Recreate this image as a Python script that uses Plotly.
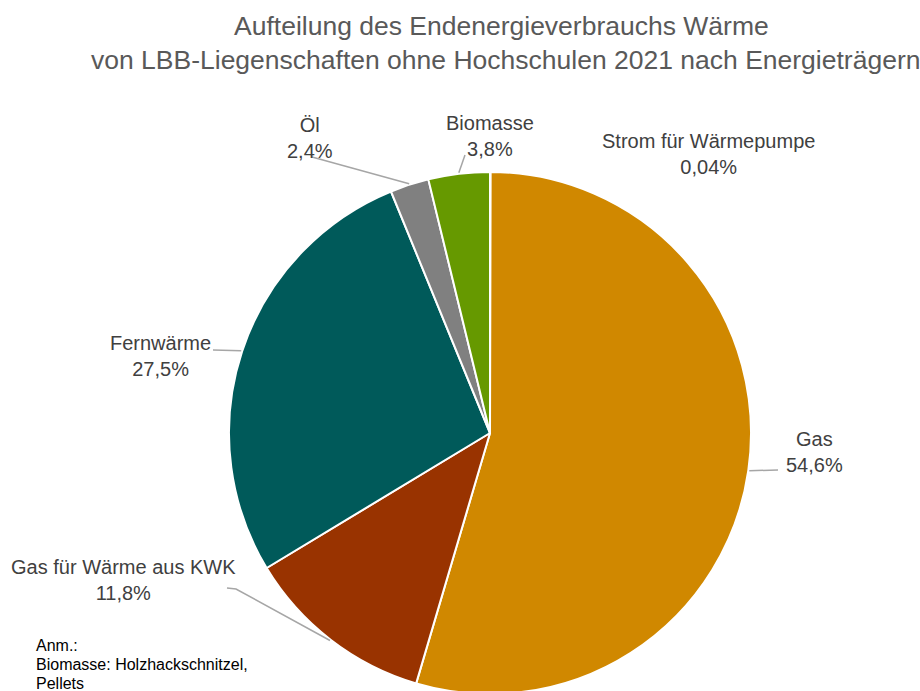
import math
import plotly.graph_objects as go

labels = ["Strom für Wärmepumpe", "Gas", "Gas für Wärme aus KWK", "Fernwärme", "Öl", "Biomasse"]
values = [0.04, 54.6, 11.8, 27.5, 2.4, 3.8]
value_text = ["0,04%", "54,6%", "11,8%", "27,5%", "2,4%", "3,8%"]
colors = ["#FFC000", "#D08800", "#993300", "#005A5A", "#808080", "#669900"]
note_lines = ["Anm.:", "Biomasse: Holzhackschnitzel,", "Pellets"]

W, H = 920, 694   # slightly taller than the window; bottom 3px is clipped like the reference
CX, CY, R = 490, 433, 261
TOP = CY - R  # top margin in px

def px(x):
    return x / W

def py(y):
    return (H - y) / (H - TOP)

# label centre positions (pixel) and leader-line outer end (pixel) per slice
label_pos = {
    "Strom für Wärmepumpe": (708, 154),
    "Gas": (814, 452),
    "Gas für Wärme aus KWK": (123, 580),
    "Fernwärme": (160, 356),
    "Öl": (310, 138),
    "Biomasse": (490, 136),
}
line_end = {
    "Gas": [(778, 470)],
    "Gas für Wärme aus KWK": [(227, 588), (236, 589)],
    "Fernwärme": [(213, 350)],
    "Öl": [(312, 157)],
    "Biomasse": [(465, 155)],
}

fig = go.Figure(go.Pie(
    labels=labels, values=values, sort=False, direction="clockwise", rotation=0,
    marker=dict(colors=colors, line=dict(color="white", width=2)),
    textinfo="none", hoverinfo="label+percent",
    domain=dict(x=[(CX - 300) / W, (CX + 300) / W], y=[0, 1]),
    showlegend=False,
))

total = sum(values)
cum = 0.0
shapes = []
annotations = []
for lab, v, t in zip(labels, values, value_text):
    mid = (cum + v / 2) / total * 2 * math.pi
    cum += v
    ex, ey = CX + (R + 1) * math.sin(mid), CY - (R + 1) * math.cos(mid)
    lx, ly = label_pos[lab]
    annotations.append(dict(
        x=px(lx), y=py(ly), xref="paper", yref="paper", text=f"{lab}<br>{t}",
        showarrow=False, xanchor="center", yanchor="middle",
        font=dict(family="Liberation Sans, Arial", size=20, color="#404040"),
    ))
    if lab in line_end:
        pts = line_end[lab] + [(ex, ey)]
        path = "M " + " L ".join(f"{px(a)},{py(b)}" for a, b in pts)
        shapes.append(dict(type="path", path=path, xref="paper", yref="paper",
                           line=dict(color="#A6A6A6", width=1.5)))

annotations.append(dict(
    x=px(502), y=py(26), xref="paper", yref="paper",
    text="Aufteilung des Endenergieverbrauchs Wärme", showarrow=False,
    xanchor="center", yanchor="middle",
    font=dict(family="Liberation Sans, Arial", size=26.5, color="#595959"),
))
annotations.append(dict(
    x=px(505), y=py(60), xref="paper", yref="paper",
    text="von LBB-Liegenschaften ohne Hochschulen 2021 nach Energieträgern", showarrow=False,
    xanchor="center", yanchor="middle",
    font=dict(family="Liberation Sans, Arial", size=26.5, color="#595959"),
))
for i, line in enumerate(note_lines):
    annotations.append(dict(
        x=px(34), y=py(645 + 19 * i), xref="paper", yref="paper",
        text=line, showarrow=False, xanchor="left", yanchor="middle", align="left",
        font=dict(family="Liberation Sans, Arial", size=16, color="#000000"),
    ))

fig.update_layout(
    width=W, height=H, autosize=False,
    margin=dict(l=0, r=0, t=TOP, b=0),
    paper_bgcolor="white", plot_bgcolor="white",
    shapes=shapes, annotations=annotations,
)

fig.write_html(
    "out.html",
    config={"displayModeBar": False},
    post_script="document.body.style.margin='0';document.body.style.overflow='hidden';",
)
